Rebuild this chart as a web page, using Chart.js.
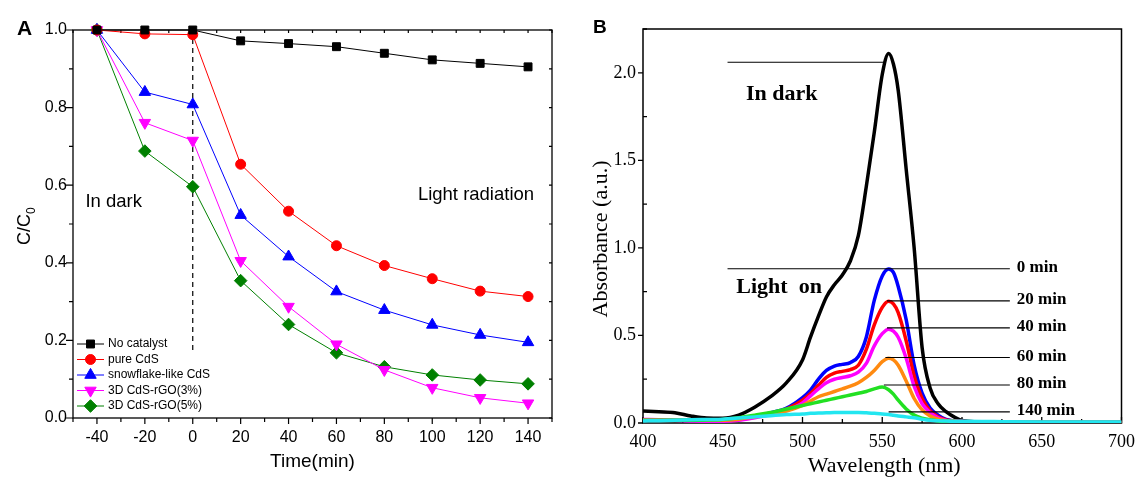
<!DOCTYPE html>
<html>
<head>
<meta charset="utf-8">
<script src="https://cdn.jsdelivr.net/npm/chart.js@4.4.1/dist/chart.umd.min.js"></script>
<style>
html, body { margin: 0; padding: 0; background: #fff; }
#wrap { position: relative; width: 1143px; height: 479px; overflow: hidden; }
#chart-a { position: absolute; left: 0; top: 0; width: 580px; height: 479px; }
#chart-b { position: absolute; left: 580px; top: 0; width: 563px; height: 479px; }
</style>
</head>
<body>
<div id="wrap">
	<canvas id="chart-a" width="580" height="479"></canvas>
	<canvas id="chart-b" width="563" height="479"></canvas>
</div>
<script>
// ---- panel A: C/C0 against time ----
const time_min = [-40, -20, 0, 20, 40, 60, 80, 100, 120, 140];
const no_catalyst = [1.0, 1.0, 1.0, 0.972, 0.965, 0.957, 0.940, 0.923, 0.914, 0.905];
const pure_cds = [1.0, 0.990, 0.988, 0.654, 0.533, 0.444, 0.393, 0.359, 0.327, 0.313];
const snowflake_cds = [1.0, 0.840, 0.808, 0.523, 0.416, 0.326, 0.278, 0.240, 0.214, 0.195];
const cds_rgo3 = [1.0, 0.761, 0.715, 0.405, 0.287, 0.190, 0.124, 0.078, 0.052, 0.038];
const cds_rgo5 = [1.0, 0.688, 0.596, 0.354, 0.241, 0.168, 0.132, 0.111, 0.098, 0.088];
const legend_a = ["No catalyst", "pure CdS", "snowflake-like CdS", "3D CdS-rGO(3%)", "3D CdS-rGO(5%)"];
const time_ticks = [-40, -20, 0, 20, 40, 60, 80, 100, 120, 140];
const ratio_ticks = [0, 0.2, 0.4, 0.6, 0.8, 1.0];
const divider_x = [0, 0];
const divider_y = [1.0, 0.175];

// ---- panel B: absorption spectra ----
const wavelength = [400, 410, 420, 430, 440, 450, 460, 470, 480, 490, 500, 505, 510, 515, 520, 525, 530, 535, 540, 545, 550, 554, 557, 560, 565, 570, 575, 580, 585, 590, 595, 600, 620, 650, 700];
const abs_dark = [0.068, 0.064, 0.059, 0.040, 0.028, 0.027, 0.045, 0.090, 0.150, 0.230, 0.360, 0.490, 0.610, 0.720, 0.790, 0.845, 0.925, 1.070, 1.350, 1.660, 1.990, 2.110, 2.050, 1.900, 1.450, 1.000, 0.430, 0.200, 0.110, 0.065, 0.035, 0.015, 0.004, 0.003, 0.003];
const abs_0 = [0.015, 0.015, 0.015, 0.015, 0.015, 0.018, 0.025, 0.040, 0.058, 0.085, 0.145, 0.188, 0.250, 0.300, 0.325, 0.335, 0.345, 0.380, 0.490, 0.700, 0.840, 0.880, 0.860, 0.780, 0.590, 0.330, 0.170, 0.085, 0.045, 0.020, 0.012, 0.008, 0.003, 0.003, 0.003];
const abs_20 = [0.015, 0.015, 0.015, 0.015, 0.015, 0.017, 0.024, 0.038, 0.054, 0.080, 0.130, 0.168, 0.215, 0.260, 0.285, 0.295, 0.305, 0.330, 0.420, 0.560, 0.660, 0.695, 0.680, 0.630, 0.470, 0.270, 0.140, 0.070, 0.035, 0.018, 0.012, 0.008, 0.003, 0.003, 0.003];
const abs_40 = [0.020, 0.018, 0.015, 0.012, 0.010, 0.010, 0.015, 0.030, 0.048, 0.072, 0.115, 0.155, 0.195, 0.230, 0.250, 0.260, 0.270, 0.290, 0.340, 0.440, 0.510, 0.536, 0.525, 0.490, 0.370, 0.210, 0.110, 0.060, 0.030, 0.015, 0.010, 0.008, 0.003, 0.003, 0.003];
const abs_60 = [0.015, 0.015, 0.015, 0.015, 0.015, 0.016, 0.022, 0.035, 0.050, 0.068, 0.100, 0.125, 0.150, 0.165, 0.180, 0.195, 0.210, 0.230, 0.260, 0.300, 0.350, 0.370, 0.360, 0.330, 0.240, 0.140, 0.075, 0.040, 0.022, 0.013, 0.010, 0.008, 0.003, 0.003, 0.003];
const abs_80 = [0.015, 0.015, 0.015, 0.015, 0.017, 0.020, 0.030, 0.045, 0.060, 0.080, 0.100, 0.110, 0.120, 0.130, 0.140, 0.150, 0.160, 0.170, 0.180, 0.195, 0.205, 0.190, 0.165, 0.130, 0.080, 0.045, 0.028, 0.018, 0.012, 0.010, 0.008, 0.006, 0.003, 0.003, 0.003];
const abs_140 = [0.012, 0.013, 0.015, 0.018, 0.020, 0.022, 0.028, 0.035, 0.042, 0.048, 0.052, 0.055, 0.057, 0.058, 0.060, 0.060, 0.060, 0.060, 0.058, 0.055, 0.052, 0.048, 0.044, 0.040, 0.035, 0.030, 0.022, 0.016, 0.013, 0.011, 0.010, 0.010, 0.008, 0.006, 0.006];
const wave_ticks = [400, 450, 500, 550, 600, 650, 700];
const abs_ticks = [0, 0.5, 1.0, 1.5, 2.0];
// leader lines for the time labels
const dark_line_x = [453, 551];
const dark_line_y = 2.06;
const time_labels = ["0 min", "20 min", "40 min", "60 min", "80 min", "140 min"];
const time_levels = [0.881, 0.697, 0.543, 0.374, 0.217, 0.064];
const time_line_start = [453, 553, 553, 552, 551, 554];
const time_line_end = 630;

const sans = "'Liberation Sans', Arial, sans-serif";
const serif = "'Liberation Serif', 'Times New Roman', serif";
Chart.defaults.color = "#000";
Chart.defaults.font.family = sans;

function pts(xs, ys) {
	return xs.map((x, i) => ({x: x, y: ys[i]}));
}

// ---------- panel A ----------
const styles_a = [
	{color: "#000000", shape: "rect", radius: 5.6, rotation: 0},
	{color: "#ff0000", shape: "circle", radius: 5, rotation: 0},
	{color: "#0000ff", shape: "triangle", radius: 6.6, rotation: 0},
	{color: "#ff00ff", shape: "triangle", radius: 6.6, rotation: 180},
	{color: "#008000", shape: "rectRot", radius: 6.3, rotation: 0}
];
const values_a = [no_catalyst, pure_cds, snowflake_cds, cds_rgo3, cds_rgo5];

const datasets_a = values_a.map((vals, i) => ({
	label: legend_a[i],
	data: pts(time_min, vals),
	borderColor: styles_a[i].color,
	backgroundColor: styles_a[i].color,
	borderWidth: 1,
	pointStyle: styles_a[i].shape,
	pointRadius: styles_a[i].radius,
	pointRotation: styles_a[i].rotation,
	pointBorderWidth: 1,
	clip: false
}));
datasets_a.push({
	label: "divider",
	data: pts(divider_x, divider_y),
	borderColor: "#000",
	borderWidth: 1.2,
	borderDash: [5, 4],
	pointRadius: 0,
	clip: false
});

function draw_marker(ctx, style, x, y) {
	ctx.fillStyle = style.color;
	ctx.strokeStyle = style.color;
	ctx.lineWidth = 1;
	if (Chart.helpers && Chart.helpers.drawPoint) {
		Chart.helpers.drawPoint(ctx, {pointStyle: style.shape, radius: style.radius, rotation: style.rotation, borderWidth: 1}, x, y);
	}
}

const deco_a = {
	id: "deco_a",
	beforeDatasetsDraw(chart) {
		const {ctx, chartArea: ca, scales: {x, y}} = chart;
		ctx.save();
		ctx.strokeStyle = "#000";
		ctx.lineWidth = 1.3;
		ctx.strokeRect(ca.left, ca.top, ca.right - ca.left, ca.bottom - ca.top);
		ctx.lineWidth = 1.2;
		ctx.beginPath();
		for (let v = -50; v <= 150; v += 10) {
			const px = x.getPixelForValue(v);
			const major = (v % 20 === 0);
			ctx.moveTo(px, ca.bottom); ctx.lineTo(px, ca.bottom + (major ? 6 : 4));
			ctx.moveTo(px, ca.top); ctx.lineTo(px, ca.top + 3);
		}
		for (let i = 0; i <= 10; i++) {
			const py = y.getPixelForValue(i / 10);
			const major = (i % 2 === 0);
			ctx.moveTo(ca.left, py); ctx.lineTo(ca.left - (major ? 7 : 4), py);
			ctx.moveTo(ca.right, py); ctx.lineTo(ca.right - 3, py);
		}
		ctx.stroke();
		ctx.restore();
	},
	afterDraw(chart) {
		const {ctx, chartArea: ca, scales: {x, y}} = chart;
		ctx.save();
		ctx.fillStyle = "#000";
		ctx.textBaseline = "alphabetic";
		// panel letter
		ctx.font = "bold 21px " + sans;
		ctx.textAlign = "left";
		ctx.fillText("A", 17, 35);
		// notes
		ctx.font = "18.5px " + sans;
		ctx.fillText("In dark", x.getPixelForValue(-44.8), y.getPixelForValue(0.544));
		ctx.fillText("Light radiation", x.getPixelForValue(94), y.getPixelForValue(0.562));
		// axis titles
		ctx.textAlign = "center";
		ctx.textBaseline = "middle";
		ctx.font = "19px " + sans;
		ctx.fillText("Time(min)", (ca.left + ca.right) / 2, 462);
		ctx.save();
		ctx.translate(30, 245);
		ctx.rotate(-Math.PI / 2);
		ctx.textAlign = "left";
		ctx.textBaseline = "alphabetic";
		ctx.font = "18px " + sans;
		ctx.fillText("C/C", 0, 0);
		const w = ctx.measureText("C/C").width;
		ctx.font = "12px " + sans;
		ctx.fillText("0", w, 5);
		ctx.restore();
		// legend
		ctx.font = "12px " + sans;
		ctx.textAlign = "left";
		ctx.textBaseline = "middle";
		for (let i = 0; i < legend_a.length; i++) {
			const ly = 344 + i * 15.5;
			const st = styles_a[i];
			ctx.strokeStyle = st.color;
			ctx.lineWidth = 1;
			ctx.beginPath();
			ctx.moveTo(ca.left + 4, ly);
			ctx.lineTo(ca.left + 31, ly);
			ctx.stroke();
			draw_marker(ctx, st, ca.left + 17.5, ly);
			ctx.fillStyle = "#000";
			ctx.fillText(legend_a[i], ca.left + 35, ly);
		}
		ctx.restore();
	}
};

const chart_a = new Chart(document.getElementById("chart-a"), {
	type: "line",
	data: {datasets: datasets_a},
	options: {
		responsive: false,
		animation: false,
		layout: {padding: {left: 0, top: 30, right: 28, bottom: 0}},
		plugins: {legend: {display: false}, tooltip: {enabled: false}},
		scales: {
			x: {
				type: "linear", min: -50, max: 150,
				afterBuildTicks: s => { s.ticks = time_ticks.map(v => ({value: v})); },
				afterFit: s => { s.height = 61; },
				grid: {display: false, drawTicks: false},
				border: {display: false},
				ticks: {font: {size: 16, family: sans}, color: "#000", padding: 10, autoSkip: false, maxRotation: 0, callback: v => String(v)}
			},
			y: {
				type: "linear", min: 0, max: 1.0,
				afterBuildTicks: s => { s.ticks = ratio_ticks.map(v => ({value: v})); },
				afterFit: s => { s.width = 73; },
				grid: {display: false, drawTicks: false},
				border: {display: false},
				ticks: {font: {size: 16, family: sans}, color: "#000", padding: 6, callback: v => v.toFixed(1)}
			}
		}
	},
	plugins: [deco_a]
});

// ---------- panel B ----------
const spectra = [
	{data: abs_140, color: "#22e6f0"},
	{data: abs_80, color: "#22e022"},
	{data: abs_60, color: "#ff8a10"},
	{data: abs_40, color: "#ff00ff"},
	{data: abs_20, color: "#ff0000"},
	{data: abs_0, color: "#0000ff"},
	{data: abs_dark, color: "#000000"}
];

const datasets_b = [];
datasets_b.push({
	data: pts(dark_line_x, [dark_line_y, dark_line_y]),
	borderColor: "#000", borderWidth: 1.2, pointRadius: 0
});
for (let i = 0; i < time_levels.length; i++) {
	datasets_b.push({
		data: pts([time_line_start[i], time_line_end], [time_levels[i], time_levels[i]]),
		borderColor: "#000", borderWidth: 1.2, pointRadius: 0
	});
}
for (const s of spectra) {
	datasets_b.push({
		data: pts(wavelength, s.data),
		borderColor: s.color,
		borderWidth: 3.5,
		pointRadius: 0,
		cubicInterpolationMode: "monotone"
	});
}

const deco_b = {
	id: "deco_b",
	beforeDatasetsDraw(chart) {
		const {ctx, chartArea: ca, scales: {x, y}} = chart;
		ctx.save();
		ctx.strokeStyle = "#000";
		ctx.lineWidth = 1.5;
		ctx.strokeRect(ca.left, ca.top, ca.right - ca.left, ca.bottom - ca.top);
		ctx.lineWidth = 1.3;
		ctx.beginPath();
		for (let v = 400; v <= 700; v += 25) {
			const px = x.getPixelForValue(v);
			const major = (v % 50 === 0);
			ctx.moveTo(px, ca.bottom); ctx.lineTo(px, ca.bottom - (major ? 6 : 4));
		}
		for (let i = 0; i <= 9; i++) {
			const py = y.getPixelForValue(i * 0.25);
			if (i % 2 === 0) {
				ctx.moveTo(ca.left, py); ctx.lineTo(ca.left - 5, py);
			} else {
				ctx.moveTo(ca.left, py); ctx.lineTo(ca.left + 4, py);
			}
		}
		ctx.stroke();
		ctx.restore();
	},
	afterDraw(chart) {
		const {ctx, chartArea: ca, scales: {x, y}} = chart;
		ctx.save();
		ctx.fillStyle = "#000";
		ctx.textAlign = "left";
		ctx.textBaseline = "alphabetic";
		ctx.font = "bold 19px " + sans;
		ctx.fillText("B", 13, 33);
		ctx.font = "bold 22px " + serif;
		ctx.fillText("In dark", x.getPixelForValue(464.5), y.getPixelForValue(1.847));
		ctx.fillText("Light  on", x.getPixelForValue(458.5), y.getPixelForValue(0.741));
		ctx.font = "bold 17px " + serif;
		ctx.textBaseline = "middle";
		for (let i = 0; i < time_labels.length; i++) {
			ctx.fillText(time_labels[i], x.getPixelForValue(time_line_end) + 7, y.getPixelForValue(time_levels[i]) - 1);
		}
		ctx.font = "22px " + serif;
		ctx.textAlign = "center";
		ctx.fillText("Wavelength (nm)", (ca.left + ca.right) / 2 + 2, 466);
		ctx.save();
		ctx.translate(21, (ca.top + ca.bottom) / 2 + 13);
		ctx.rotate(-Math.PI / 2);
		ctx.fillText("Absorbance (a.u.)", 0, 0);
		ctx.restore();
		ctx.restore();
	}
};

const chart_b = new Chart(document.getElementById("chart-b"), {
	type: "line",
	data: {datasets: datasets_b},
	options: {
		responsive: false,
		animation: false,
		layout: {padding: {left: 0, top: 29, right: 13, bottom: 0}},
		plugins: {legend: {display: false}, tooltip: {enabled: false}},
		scales: {
			x: {
				type: "linear", min: 400, max: 700,
				afterBuildTicks: s => { s.ticks = wave_ticks.map(v => ({value: v})); },
				afterFit: s => { s.height = 56; },
				grid: {display: false, drawTicks: false},
				border: {display: false},
				ticks: {font: {size: 18, family: serif}, color: "#000", padding: 8, autoSkip: false, maxRotation: 0, callback: v => String(v)}
			},
			y: {
				type: "linear", min: 0, max: 2.25,
				afterBuildTicks: s => { s.ticks = abs_ticks.map(v => ({value: v})); },
				afterFit: s => { s.width = 63; },
				grid: {display: false, drawTicks: false},
				border: {display: false},
				ticks: {font: {size: 18, family: serif}, color: "#000", padding: 7, callback: v => v.toFixed(1)}
			}
		}
	},
	plugins: [deco_b]
});
</script>
</body>
</html>
